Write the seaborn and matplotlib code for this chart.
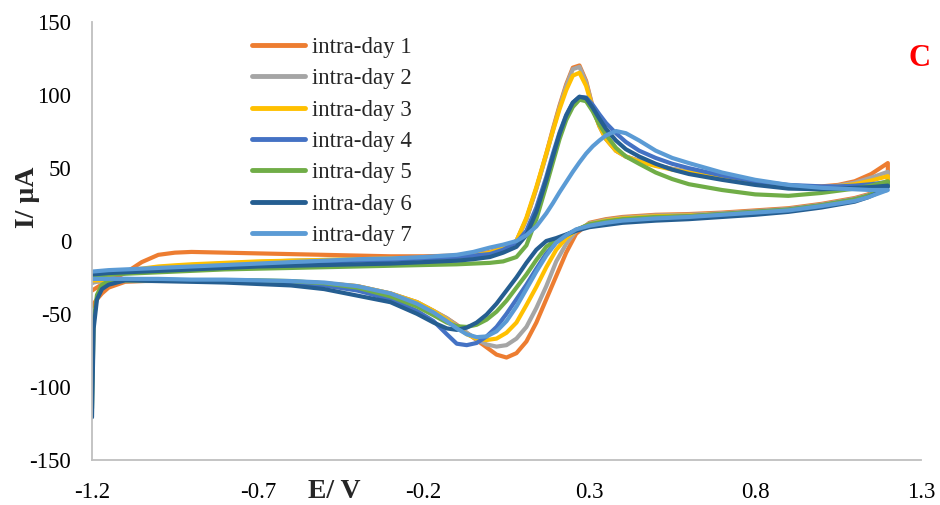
import numpy as np
import pandas as pd
import matplotlib
matplotlib.use("Agg")
import matplotlib.pyplot as plt
import seaborn as sns

# ---------------- data ----------------
series_names = ["intra-day 1", "intra-day 2", "intra-day 3", "intra-day 4",
                "intra-day 5", "intra-day 6", "intra-day 7"]
series_colors = ["#ED7D31", "#A5A5A5", "#FFC000", "#4472C4",
                 "#70AD47", "#255E91", "#5B9BD5"]

x_ticks = [-1.2, -0.7, -0.2, 0.3, 0.8, 1.3]
x_tick_labels = ["-1.2", "-0.7", "-0.2", "0.3", "0.8", "1.3"]
y_ticks = [-150, -100, -50, 0, 50, 100, 150]
y_tick_labels = ["-150", "-100", "-50", "0", "50", "100", "150"]

# forward (anodic) sweep potentials, V
E_fwd = [-1.2, -1.15, -1.1, -1.05, -1.0, -0.95, -0.9, -0.8, -0.7, -0.6, -0.5, -0.4,
         -0.3, -0.2, -0.1, -0.05, 0.0, 0.04, 0.08, 0.11, 0.14, 0.17,
         0.19, 0.21, 0.23, 0.25, 0.27, 0.29, 0.31, 0.33, 0.35,
         0.38, 0.41, 0.45, 0.5, 0.55, 0.6, 0.7, 0.8, 0.9, 1.0, 1.05, 1.1, 1.15, 1.2]
# reverse (cathodic) sweep potentials, V
E_rev = [1.2, 1.17, 1.14, 1.1, 1.0, 0.9, 0.8, 0.7, 0.6, 0.5, 0.4, 0.35, 0.3,
         0.26, 0.23, 0.2, 0.17, 0.14, 0.11, 0.08, 0.05, 0.02, -0.01, -0.04,
         -0.07, -0.1, -0.13, -0.17, -0.22, -0.3, -0.4, -0.5, -0.6, -0.7, -0.8,
         -0.9, -1.0, -1.1, -1.15, -1.17, -1.185, -1.195, -1.2]

# currents, uA
I_fwd_1 = [-34, -27, -22, -14.5, -9.5, -8, -7.5, -8, -8.5, -9, -9.5, -10, -10.5,
           -10.5, -10, -9, -7.5, -4.5, 0, 15, 36, 60,
           77, 93, 107.5, 119, 120.5, 110, 92, 79, 70,
           62, 58, 55, 52, 49.5, 47.5, 43.5, 40, 37.5, 37.5, 38.5, 41, 46, 53.5]
I_fwd_2 = [-28, -24, -21, -19.5, -18, -17.2, -16.5, -15.5, -14.5, -13.5, -13, -12.5,
           -12, -11.5, -11, -10, -8, -5, 0, 15, 36, 59,
           76, 92, 106.5, 118, 119.5, 109, 91.5, 79, 70,
           62, 58, 55, 52, 49.5, 47.5, 43.5, 40, 37.5, 37, 38, 40, 43.5, 47.5]
I_fwd_3 = [-27, -23.5, -20.5, -19, -17.5, -16.7, -16, -15, -14, -13.5, -13, -12.5,
           -12, -11.5, -11, -10, -8, -5, 0, 16, 37, 60,
           75.5, 90.5, 103.5, 113.5, 115.5, 106.5, 91, 79, 70,
           62, 58, 54.5, 51.5, 49, 47, 43, 39.5, 37, 36.5, 37.5, 39, 41.5, 44.5]
I_fwd_4 = [-22, -21, -20.5, -20, -19.5, -19, -18.5, -17.5, -16.5, -15.5, -14.5,
           -13.5, -13, -12, -11, -10, -9, -6, -1, 7, 23, 44,
           60, 74.5, 86.5, 95, 99, 98.5, 93.5, 87, 81,
           74, 68, 62, 57, 53, 50, 45, 41, 38.5, 37.5, 37.5, 38, 39, 40.5]
I_fwd_5 = [-24, -23, -22.5, -22, -21.5, -21, -20.5, -19.5, -19, -18.5, -18, -17.5,
           -17, -16.5, -16, -15.5, -15, -14, -11, -3, 15, 38,
           54, 70, 83, 92, 97, 96, 89, 80, 73,
           64, 58, 53, 47, 42.5, 39, 35, 32, 31, 33, 34.5, 36, 38, 41]
I_fwd_6 = [-23, -22, -21.5, -21, -20.5, -20, -19.5, -18.5, -17.5, -17, -16.5, -16,
           -15.5, -14.5, -13.5, -12.5, -11, -8, -4, 4, 20, 42,
           58, 73.5, 86, 95, 99, 98, 91.5, 84, 77,
           69, 63, 58, 53, 49, 46, 42, 38.5, 36, 35.5, 36, 36.5, 37, 38]
I_fwd_7 = [-21, -20, -19.5, -19, -18.5, -18, -17.5, -16.5, -15.5, -14.5, -13.5,
           -12.5, -12, -11, -9.5, -7.5, -4.5, -2.5, 0, 4, 10, 19,
           26, 33.5, 40.5, 47.5, 54, 60, 65, 69, 72.5,
           75.5, 74, 69, 62, 57, 53.5, 47, 42, 38.5, 36.5, 36, 35.5, 35, 35]

I_rev_1 = [40, 35, 32, 29.5, 25.5, 22.5, 21, 19.5, 18.5, 18, 16.5, 15, 12.5, 5, -8,
           -24, -40, -56, -69, -77, -80, -78, -73, -68, -63, -57.5, -53, -48, -42,
           -36, -31, -29, -28, -27.5, -27, -27, -27, -28, -32, -36, -40, -43, -45]
I_rev_2 = [39, 34.5, 31.5, 29, 25, 22, 20.5, 19, 18, 17.5, 16, 14.5, 12, 7, -2,
           -14, -31, -46, -59, -67, -71.5, -72.5, -71, -67.5, -63, -58, -53, -48,
           -42, -36, -31.5, -29.5, -28.5, -28, -27.5, -27.5, -27.5, -27.5, -28,
           -28, -28, -28.5, -29]
I_rev_3 = [38.5, 34, 31, 28.5, 24.5, 21.5, 20, 18.5, 17.5, 17, 15.5, 14, 11.5, 7.5,
           2, -6, -18, -31.5, -44, -56, -63, -67, -68, -67, -64, -59, -54, -48,
           -42, -36, -31, -29, -28, -27.5, -27, -27, -27, -27, -27, -27, -27, -27, -27]
I_rev_4 = [38, 34, 31, 28.5, 24.5, 21.5, 20, 18.5, 17, 16, 14.5, 13, 11, 7.5, 4, -1,
           -8.5, -19, -30, -40, -50, -59, -65.5, -70, -71.5, -70.5, -64, -55, -48,
           -40, -34, -30.5, -29, -28, -27.5, -27, -26.5, -26, -26, -26, -26, -26, -26]
I_rev_5 = [38.5, 34, 31, 28.5, 24.5, 21.5, 20, 18.5, 17, 16.5, 15, 13.5, 11.5, 7.5,
           4, 1, -4, -13, -23, -32, -41, -48.5, -54, -57.5, -59, -58.5, -56, -51,
           -45, -38, -32, -29, -27.5, -27, -27, -27, -27, -27, -27.5, -30, -37, -55, -115]
I_rev_6 = [37, 33, 30, 27, 23, 20, 18, 16.5, 15, 14, 12.5, 11, 9.5, 7, 4.5, 2, 0,
           -6, -15, -25, -34, -43, -50.5, -56, -59.5, -61, -60, -56, -50, -42,
           -37.5, -33, -30.5, -29.5, -28.5, -28, -27.5, -27, -30, -33, -40, -60, -121]
I_rev_7 = [35, 32.5, 30, 27.5, 24, 21, 19.5, 18, 16.5, 15.5, 14, 12.5, 10.5, 8, 4,
           -1, -10, -21, -33, -45, -55, -62, -65.5, -66, -64, -60, -55, -49, -43,
           -36, -31, -28.5, -27.5, -27, -26.5, -26.5, -26, -26, -26, -26, -26, -26, -26]

I_fwd_all = [I_fwd_1, I_fwd_2, I_fwd_3, I_fwd_4, I_fwd_5, I_fwd_6, I_fwd_7]
I_rev_all = [I_rev_1, I_rev_2, I_rev_3, I_rev_4, I_rev_5, I_rev_6, I_rev_7]

# ---------------- table for seaborn ----------------
frames = []
for name, fwd, rev in zip(series_names, I_fwd_all, I_rev_all):
    frames.append(pd.DataFrame({"E": E_fwd + E_rev, "I": fwd + rev, "series": name}))
df = pd.concat(frames, ignore_index=True)

# ---------------- figure ----------------
sns.set_theme(style="white")
plt.rcParams["font.family"] = ["Liberation Serif", "DejaVu Serif"]

W, H = 940, 505
fig = plt.figure(figsize=(W / 100, H / 100), dpi=100)
ax_l, ax_r, ax_t, ax_b = 92, 921, 22.5, 459.5
ax = fig.add_axes([ax_l / W, 1 - ax_b / H, (ax_r - ax_l) / W, (ax_b - ax_t) / H])

sns.lineplot(data=df, x="E", y="I", hue="series", hue_order=series_names,
             palette=series_colors, sort=False, estimator=None,
             linewidth=3.0, solid_joinstyle="round", solid_capstyle="round",
             ax=ax)

ax.set_xlim(-1.2, 1.3)
ax.set_ylim(-150, 150)
ax.set_xticks(x_ticks)
ax.set_xticklabels(x_tick_labels)
ax.set_yticks(y_ticks)
ax.set_yticklabels(y_tick_labels)
ax.tick_params(axis="both", length=0, labelsize=16.5, colors="black")
ax.tick_params(axis="y", pad=15)
ax.tick_params(axis="x", pad=16)
ax.set_xlabel("")
ax.set_ylabel("")
ax.grid(False)
for s in ["top", "right"]:
    ax.spines[s].set_visible(False)
for s in ["left", "bottom"]:
    ax.spines[s].set_color("#BFBFBF")
    ax.spines[s].set_linewidth(1.3)

handles, labels = ax.get_legend_handles_labels()
for h in handles:
    h.set_linewidth(3.5)
ax.legend(handles, labels, loc="upper left",
          bbox_to_anchor=(252 / W, 1 - 37 / H), bbox_transform=fig.transFigure,
          frameon=False, fontsize=16.5, handlelength=2.3, handletextpad=0.3,
          labelspacing=0.45, borderpad=0, borderaxespad=0)

fig.text(28 / W, 1 - 197 / H, "I/ µA", rotation=90, fontsize=20,
         fontweight="bold", ha="center", va="center")
fig.text(334 / W, 1 - 492 / H, "E/ V", fontsize=20, fontweight="bold",
         ha="center", va="center")
fig.text(920 / W, 1 - 58 / H, "C", fontsize=22, fontweight="bold",
         color="#FF0000", ha="center", va="center")

fig.savefig("out.png", dpi=100)
